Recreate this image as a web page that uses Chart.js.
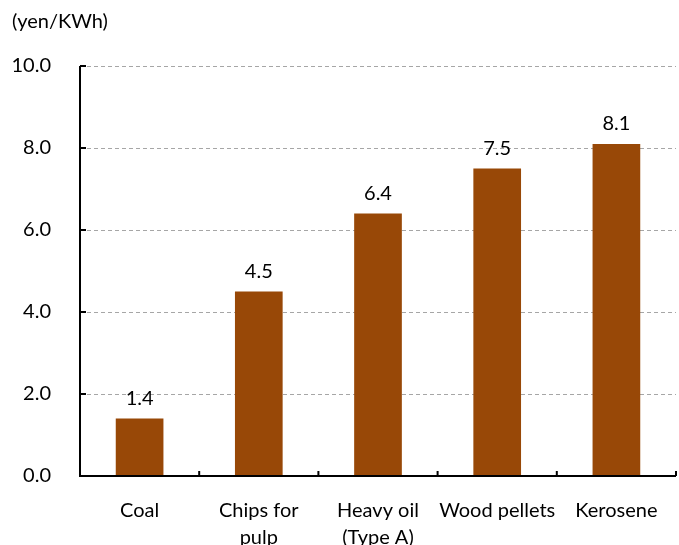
<!DOCTYPE html>
<html>
<head>
<meta charset="utf-8">
<script src="https://cdn.jsdelivr.net/npm/chart.js@4/dist/chart.umd.min.js"></script>
<style>
  body { margin: 0; background: #fff; }
</style>
</head>
<body>
<canvas id="cost-chart" width="679" height="545"></canvas>
<script>
let unitLabel = "(yen/KWh)"
let fuels = [["Coal"], ["Chips for", "pulp"], ["Heavy oil", "(Type A)"], ["Wood pellets"], ["Kerosene"]]
let costs = [1.4, 4.5, 6.4, 7.5, 8.1]
let yTicks = [0, 2, 4, 6, 8, 10]

const barColor = '#984807'
const fontFamily = 'Lato, "Open Sans", sans-serif'

// inward tick marks, axis lines and the numbers over each bar
const axisAndLabels = {
  id: 'axisAndLabels',
  afterDatasetsDraw(chart) {
    const ctx = chart.ctx
    const area = chart.chartArea
    const x = chart.scales.x
    const y = chart.scales.y

    ctx.save()
    ctx.strokeStyle = '#000'
    ctx.lineWidth = 2
    ctx.beginPath()
    ctx.moveTo(area.left, area.top)
    ctx.lineTo(area.left, area.bottom)
    ctx.lineTo(area.right, area.bottom)
    yTicks.forEach(v => {
      const py = y.getPixelForValue(v)
      ctx.moveTo(area.left, py)
      ctx.lineTo(area.left + 6, py)
    })
    const half = (x.getPixelForValue(1) - x.getPixelForValue(0)) / 2
    for (let i = 0; i <= fuels.length; i++) {
      const px = x.getPixelForValue(i) - half
      ctx.moveTo(px, area.bottom)
      ctx.lineTo(px, area.bottom - 5)
    }
    ctx.stroke()

    ctx.fillStyle = '#000'
    ctx.font = '20px ' + fontFamily
    ctx.textAlign = 'center'
    ctx.textBaseline = 'middle'
    chart.getDatasetMeta(0).data.forEach((bar, i) => {
      ctx.fillText(costs[i].toFixed(1), bar.x, bar.y - 20)
    })
    ctx.restore()
  }
}

const ctx = document.getElementById('cost-chart').getContext('2d')
new Chart(ctx, {
  type: 'bar',
  data: {
    labels: fuels,
    datasets: [
      {
        data: costs,
        backgroundColor: barColor,
        barPercentage: 0.4,
        categoryPercentage: 1
      }
    ]
  },
  options: {
    responsive: false,
    animation: false,
    layout: { padding: { left: 12, right: 3, top: 0, bottom: 0 } },
    plugins: {
      legend: { display: false },
      tooltip: { enabled: false },
      title: {
        display: true,
        text: unitLabel,
        align: 'start',
        color: '#000',
        font: { family: fontFamily, size: 20, weight: 'normal', lineHeight: 1.2 },
        padding: { top: 10, bottom: 32 }
      }
    },
    scales: {
      x: {
        grid: { display: false },
        border: { display: false },
        afterFit: scale => { scale.height = 69 },
        ticks: {
          color: '#000',
          padding: 13,
          maxRotation: 0,
          autoSkip: false,
          font: { family: fontFamily, size: 20, lineHeight: 1.35 }
        }
      },
      y: {
        min: 0,
        max: 10,
        afterFit: scale => { scale.width = 68 },
        afterBuildTicks: scale => {
          scale.ticks = yTicks.map(v => ({ value: v }))
        },
        grid: { color: '#a6a6a6', lineWidth: 1, drawTicks: false },
        border: { display: false, dash: [4, 3] },
        ticks: {
          color: '#000',
          padding: 29,
          font: { family: fontFamily, size: 20 },
          callback: v => v.toFixed(1)
        }
      }
    }
  },
  plugins: [axisAndLabels]
})
</script>
</body>
</html>
